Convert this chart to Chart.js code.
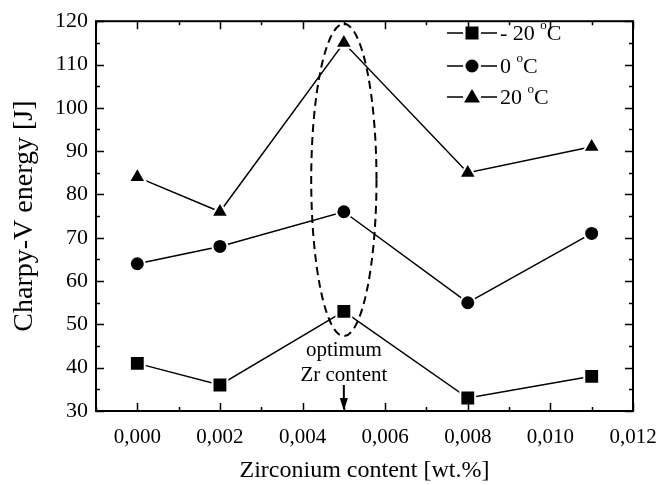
<!DOCTYPE html>
<html>
<head>
<meta charset="utf-8">
<script src="https://cdn.jsdelivr.net/npm/chart.js@4/dist/chart.umd.min.js"></script>
<style>
  html, body { margin: 0; padding: 0; background: #fff; }
  #wrap { width: 672px; height: 485px; }
</style>
</head>
<body>
<div id="wrap"><canvas id="chart"></canvas></div>
<script>
const zrContent = [0.000, 0.002, 0.005, 0.008, 0.011];
const energyMinus20 = [41, 36, 53, 33, 38];
const energy0 = [64, 68, 76, 55, 71];
const energy20 = [84, 76, 115, 85, 91];
const xTicks = [0.000, 0.002, 0.004, 0.006, 0.008, 0.010, 0.012];
const yTicks = [30, 40, 50, 60, 70, 80, 90, 100, 110, 120];
const seriesNames = ["- 20 ", "0 ", "20 "];

const FONT = "'Liberation Serif', 'DejaVu Serif', serif";

// ellipse around the optimum, in data units
const optX = 0.005;
const ellipse = { x0: 0.00421, x1: 0.00579, y0: 47.3, y1: 119.4 };

function pts(ys) {
    return zrContent.map((x, i) => ({ x: x, y: ys[i] }));
}

function ds(label, ys, style, radius) {
    return {
        label: label,
        data: pts(ys),
        borderColor: "#000",
        borderWidth: 1.5,
        pointStyle: style,
        pointRadius: radius,
        pointHoverRadius: radius,
        pointBackgroundColor: "#000",
        pointBorderColor: "#fff",
        pointBorderWidth: 2,
        tension: 0,
    };
}

function drawMarker(ctx, style, x, y) {
    ctx.fillStyle = "#000";
    ctx.beginPath();
    if (style === "rect") {
        ctx.rect(x - 6.5, y - 6.5, 13, 13);
    } else if (style === "circle") {
        ctx.arc(x, y, 6.5, 0, Math.PI * 2);
    } else {
        ctx.moveTo(x, y - 8);
        ctx.lineTo(x + 8, y + 5.5);
        ctx.lineTo(x - 8, y + 5.5);
        ctx.closePath();
    }
    ctx.fill();
}

const extras = {
    id: "extras",
    afterDraw(chart) {
        const ctx = chart.ctx;
        const a = chart.chartArea;
        const xs = chart.scales.x, ys = chart.scales.y;
        ctx.save();
        // frame
        ctx.strokeStyle = "#000";
        ctx.lineWidth = 2;
        ctx.strokeRect(a.left, a.top, a.right - a.left, a.bottom - a.top);
        // inward ticks, all four sides
        ctx.lineWidth = 1.5;
        ctx.beginPath();
        for (let v = -0.001; v <= 0.0120001; v += 0.001) {
            const px = Math.round(xs.getPixelForValue(v)) + 0.5;
            const major = Math.abs(Math.round(v * 1000) % 2) === 0;
            const len = major ? 8 : 4;
            ctx.moveTo(px, a.bottom); ctx.lineTo(px, a.bottom - len);
            ctx.moveTo(px, a.top); ctx.lineTo(px, a.top + len);
        }
        for (let v = 30; v <= 120; v += 5) {
            const py = Math.round(ys.getPixelForValue(v)) + 0.5;
            const len = v % 10 === 0 ? 8 : 4;
            ctx.moveTo(a.left, py); ctx.lineTo(a.left + len, py);
            ctx.moveTo(a.right, py); ctx.lineTo(a.right - len, py);
        }
        ctx.stroke();

        // dashed ellipse
        const ex0 = xs.getPixelForValue(ellipse.x0), ex1 = xs.getPixelForValue(ellipse.x1);
        const ey0 = ys.getPixelForValue(ellipse.y1), ey1 = ys.getPixelForValue(ellipse.y0);
        ctx.setLineDash([8, 5]);
        ctx.lineWidth = 2;
        ctx.beginPath();
        ctx.ellipse((ex0 + ex1) / 2, (ey0 + ey1) / 2, (ex1 - ex0) / 2, (ey1 - ey0) / 2, 0, 0, Math.PI * 2);
        ctx.stroke();
        ctx.setLineDash([]);

        // annotation text and arrow
        const ox = xs.getPixelForValue(optX);
        ctx.fillStyle = "#000";
        ctx.font = "21px " + FONT;
        ctx.textAlign = "center";
        ctx.textBaseline = "middle";
        ctx.fillText("optimum", ox, a.bottom - 61);
        ctx.fillText("Zr content", ox, a.bottom - 36);
        ctx.lineWidth = 2;
        ctx.beginPath();
        ctx.moveTo(ox, a.bottom - 26);
        ctx.lineTo(ox, a.bottom - 10);
        ctx.stroke();
        ctx.beginPath();
        ctx.moveTo(ox - 4, a.bottom - 13);
        ctx.lineTo(ox + 4, a.bottom - 13);
        ctx.lineTo(ox, a.bottom);
        ctx.closePath();
        ctx.fill();

        // legend
        const styles = ["rect", "circle", "triangle"];
        const rows = [33, 66, 97];
        const lx0 = 447, lx1 = 497, mx = 472;
        for (let i = 0; i < 3; i++) {
            const y = rows[i];
            ctx.lineWidth = 1.5;
            ctx.beginPath();
            ctx.moveTo(lx0, y); ctx.lineTo(mx - 9, y);
            ctx.moveTo(mx + 9, y); ctx.lineTo(lx1, y);
            ctx.stroke();
            drawMarker(ctx, styles[i], mx, y);
            ctx.textAlign = "left";
            ctx.textBaseline = "middle";
            ctx.font = "22px " + FONT;
            const t = seriesNames[i];
            ctx.fillText(t, 500, y + 1);
            let w = ctx.measureText(t).width;
            ctx.font = "13px " + FONT;
            ctx.fillText("o", 500 + w, y - 7);
            w += ctx.measureText("o").width;
            ctx.font = "22px " + FONT;
            ctx.fillText("C", 500 + w, y + 1);
        }
        ctx.restore();
    }
};

new Chart(document.getElementById("chart"), {
    type: "scatter",
    data: {
        datasets: [
            ds("- 20 °C", energyMinus20, "rect", 10.5),
            ds("0 °C", energy0, "circle", 7.5),
            ds("20 °C", energy20, "triangle", 9.8),
        ]
    },
    options: {
        responsive: true,
        maintainAspectRatio: false,
        animation: false,
        showLine: true,
        layout: { padding: { top: 17, right: 39, left: 0, bottom: 0 } },
        plugins: {
            legend: { display: false },
            tooltip: { enabled: false },
        },
        scales: {
            x: {
                type: "linear",
                min: -0.001,
                max: 0.012,
                afterBuildTicks: (s) => { s.ticks = xTicks.map(v => ({ value: v })); },
                afterFit: (s) => { s.height = 74; },
                grid: { display: false, drawTicks: false },
                border: { display: false },
                ticks: {
                    color: "#000",
                    padding: 14,
                    font: { family: FONT, size: 21 },
                    callback: (v) => v.toFixed(3).replace(".", ","),
                },
                title: {
                    display: true,
                    text: "Zirconium content [wt.%]",
                    color: "#000",
                    font: { family: FONT, size: 24 },
                    padding: { top: 4, bottom: 0 },
                },
            },
            y: {
                min: 30,
                max: 120,
                afterBuildTicks: (s) => { s.ticks = yTicks.map(v => ({ value: v })); },
                afterFit: (s) => { s.width = 96; },
                grid: { display: false, drawTicks: false },
                border: { display: false },
                ticks: {
                    color: "#000",
                    padding: 8,
                    font: { family: FONT, size: 22 },
                },
                title: {
                    display: true,
                    text: "Charpy-V energy [J]",
                    color: "#000",
                    font: { family: FONT, size: 28 },
                    padding: { top: 8, bottom: 0 },
                },
            },
        },
    },
    plugins: [extras],
});
</script>
</body>
</html>
